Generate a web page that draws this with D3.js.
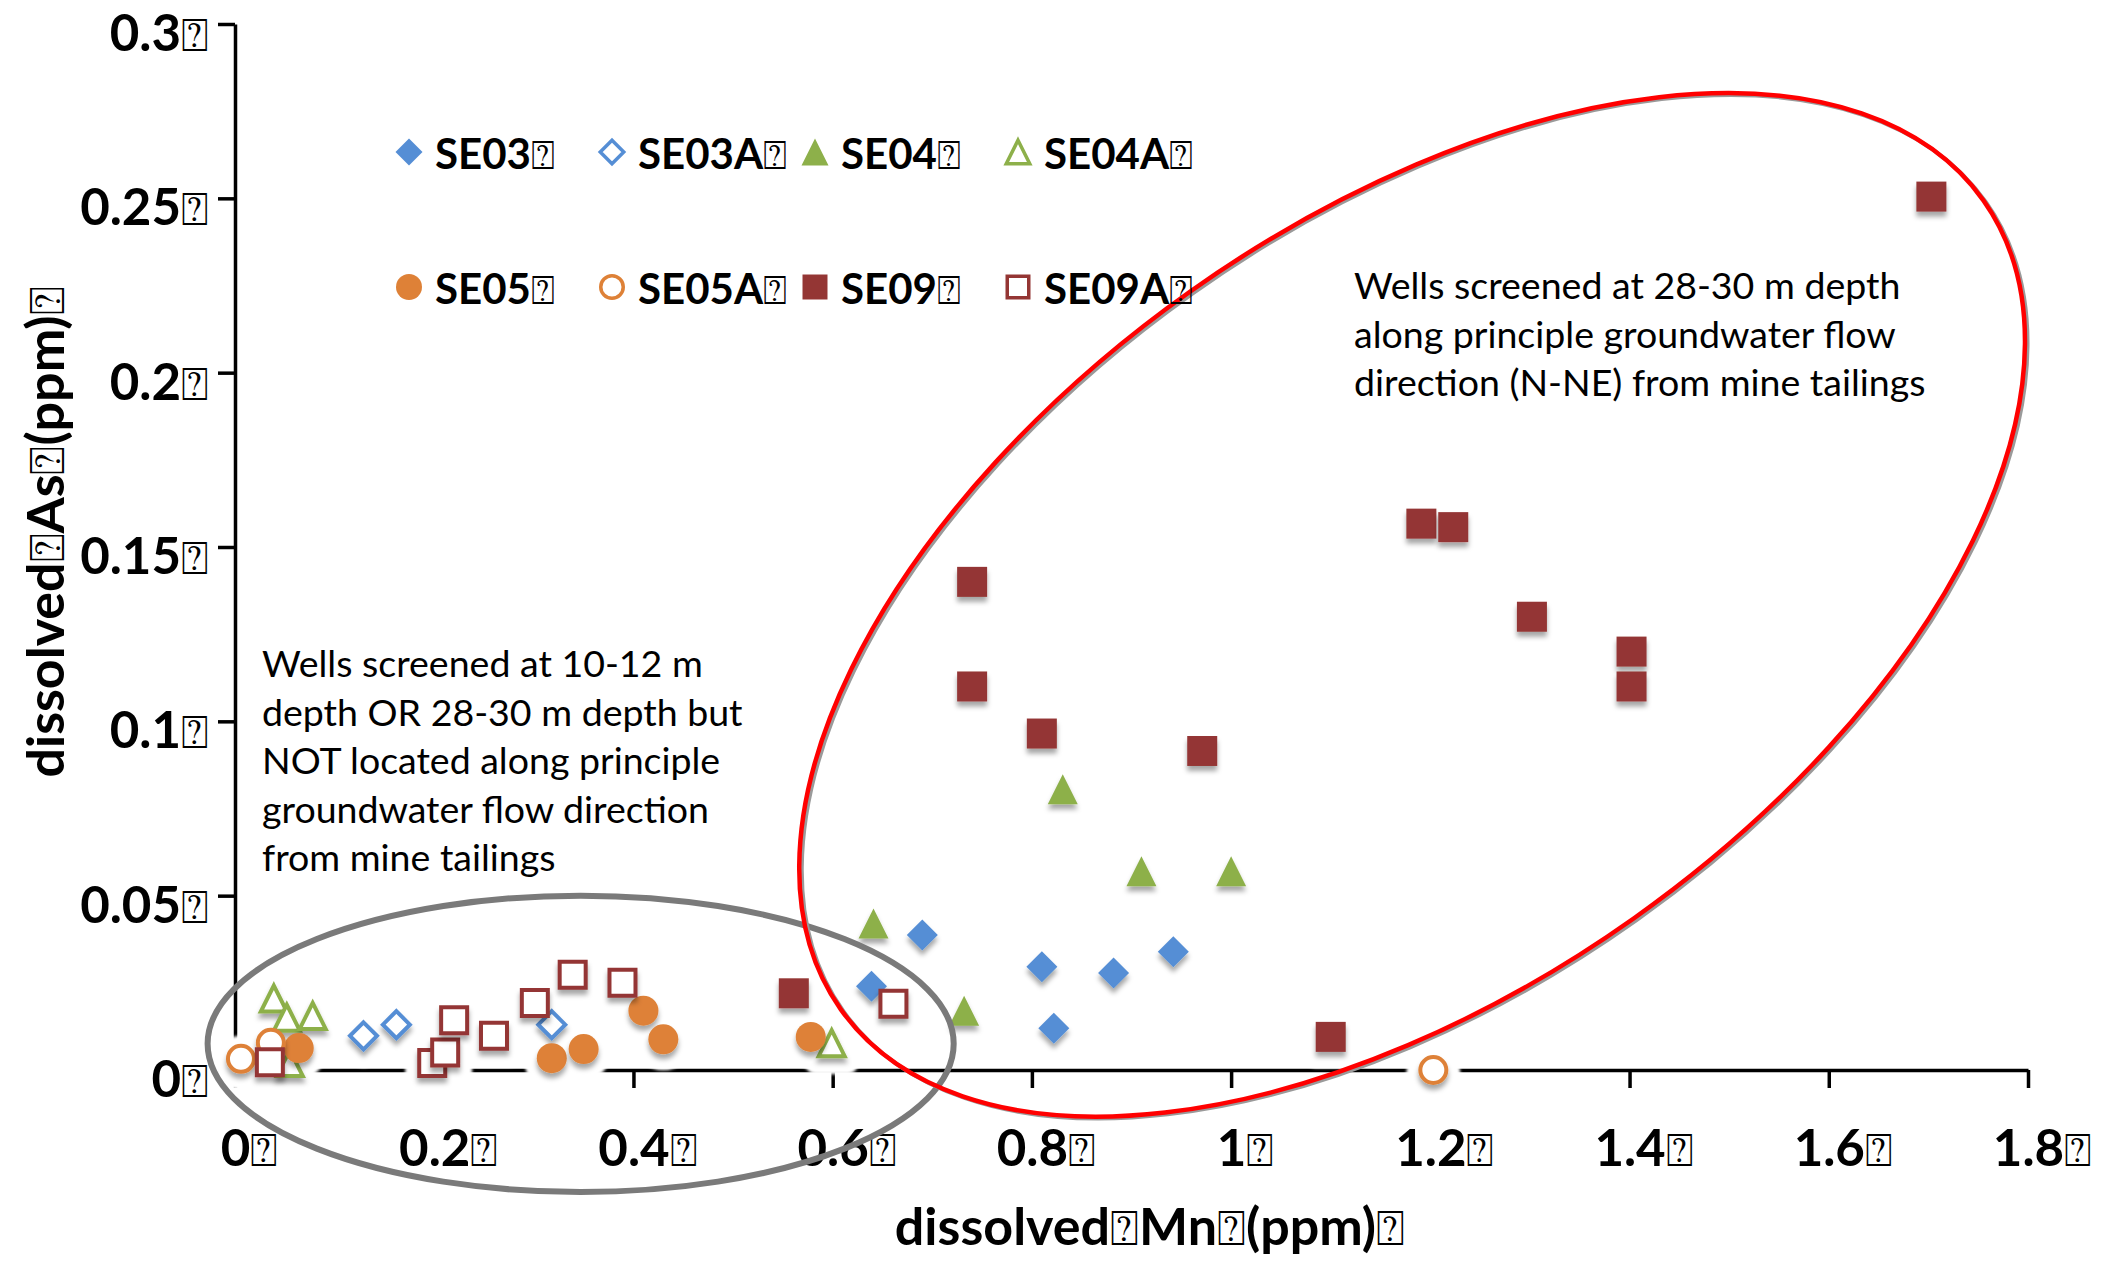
<!DOCTYPE html>
<html><head><meta charset="utf-8">
<script src="https://cdn.jsdelivr.net/npm/d3@7/dist/d3.min.js"></script>
<style>body{margin:0;background:#fff} svg{display:block}</style>
</head><body>
<svg id="chart" width="2105" height="1262"></svg>
<script>
// ---------- data ----------
const BOX = "\u2370";
const seriesNames = ["SE03","SE03A","SE04","SE04A","SE05","SE05A","SE09","SE09A"];
const SE03  = [[0.639,0.024],[0.69,0.0387],[0.81,0.0296],[0.822,0.012],[0.882,0.0278],[0.942,0.0339]];
const SE03A = [[0.129,0.0098],[0.162,0.013],[0.318,0.013]];
const SE04  = [[0.641,0.042],[0.732,0.017],[0.831,0.0805],[0.91,0.057],[1.0,0.057]];
const SE04A = [[0.039,0.0205],[0.052,0.015],[0.078,0.0155],[0.055,0.002],[0.599,0.0077]];
const SE05  = [[0.064,0.0063],[0.318,0.0034],[0.35,0.006],[0.41,0.017],[0.43,0.0088],[0.578,0.0095]];
const SE05A = [[0.006,0.0032],[0.036,0.0078],[1.203,0.0]];
const SE09  = [[0.561,0.022],[0.74,0.14],[0.74,0.11],[0.81,0.0965],[0.971,0.0915],[1.10,0.0095],[1.191,0.1567],[1.223,0.1557],[1.302,0.13],[1.402,0.12],[1.402,0.11],[1.703,0.2505]];
const SE09A = [[0.035,0.0022],[0.198,0.002],[0.211,0.005],[0.22,0.0143],[0.26,0.0098],[0.301,0.0192],[0.339,0.0273],[0.389,0.025],[0.661,0.019]];
const seriesData = [SE03,SE03A,SE04,SE04A,SE05,SE05A,SE09,SE09A];

const xTickValues = [0,0.2,0.4,0.6,0.8,1.0,1.2,1.4,1.6,1.8];
const xTickLabels = ["0","0.2","0.4","0.6","0.8","1","1.2","1.4","1.6","1.8"];
const yTickValues = [0,0.05,0.1,0.15,0.2,0.25,0.3];
const yTickLabels = ["0","0.05","0.1","0.15","0.2","0.25","0.3"];

const xTitle = ["dissolved",BOX,"Mn",BOX,"(ppm)",BOX];
const yTitle = ["dissolved",BOX,"As",BOX,"(ppm)",BOX];
const noteLeft = ["Wells screened at 10-12 m","depth OR 28-30 m depth but","NOT located along principle","groundwater flow direction","from mine tailings"];
const noteRight = ["Wells screened at 28-30 m depth","along principle groundwater flow","direction (N-NE) from mine tailings"];

// ---------- styles ----------
const shapes = ["diamond","diamond","triangle","triangle","circle","circle","square","square"];
const colors = ["#558ED5","#558ED5","#8DB04A","#8DB04A","#DE8137","#DE8137","#943634","#943634"];
const filled = [true,false,true,false,true,false,true,false];

const W = 2105, H = 1262;
const svg = d3.select("#chart");
svg.append("rect").attr("width",W).attr("height",H).attr("fill","#fff");

const defs = svg.append("defs");
const f = defs.append("filter").attr("id","shadow").attr("x","-60%").attr("y","-60%").attr("width","220%").attr("height","220%");
f.append("feDropShadow").attr("dx",0).attr("dy",5).attr("stdDeviation",2.5).attr("flood-color","#000").attr("flood-opacity",0.35);
const g2 = defs.append("filter").attr("id","halo").attr("x","-60%").attr("y","-60%").attr("width","220%").attr("height","220%");
g2.append("feGaussianBlur").attr("stdDeviation",1.5);

const x = d3.scaleLinear().domain([0,1.8]).range([235,2028]);
const y = d3.scaleLinear().domain([0,0.3]).range([1070,24]);

function shapePath(shape, s){
  const p = d3.path();
  if(shape==="diamond"){p.moveTo(0,-s);p.lineTo(s,0);p.lineTo(0,s);p.lineTo(-s,0);p.closePath();}
  else if(shape==="square"){p.rect(-s,-s,2*s,2*s);}
  else if(shape==="triangle"){p.moveTo(0,-s);p.lineTo(s,s);p.lineTo(-s,s);p.closePath();}
  else {p.arc(0,0,s,0,2*Math.PI);p.closePath();}
  return p.toString();
}
const halfSize = {diamond:15.5, square:15, triangle:15, circle:15};
const openStroke = 4;

const boldFont = "Lato, 'Open Sans', sans-serif";
const boxFont = "'DejaVu Sans'";

// ---------- axes ----------
const xAxis = d3.axisBottom(x).tickValues(xTickValues).tickSize(18).tickSizeOuter(0).tickPadding(42)
  .tickFormat((d,i)=>xTickLabels[i]);
const yAxis = d3.axisLeft(y).tickValues(yTickValues).tickSize(17).tickSizeOuter(0).tickPadding(9)
  .tickFormat((d,i)=>yTickLabels[i]);

const gx = svg.append("g").attr("transform",`translate(0,${y(0)})`).call(xAxis);
const gy = svg.append("g").attr("transform",`translate(${x(0)},0)`).call(yAxis);
[gx,gy].forEach(g=>{
  g.select(".domain").attr("stroke","#000").attr("stroke-width",3.5);
  g.selectAll(".tick line").attr("stroke","#000").attr("stroke-width",3.5);
  g.selectAll(".tick text").attr("font-family",boldFont).attr("font-weight",700).attr("font-size",51).attr("fill","#000");
});
function addBox(sel, size){
  sel.each(function(){
    const t = d3.select(this); const s = t.text(); t.text(null);
    t.append("tspan").attr("class","num").text(s);
    t.append("tspan").attr("class","bx").attr("font-family",boxFont).attr("font-weight",400).attr("font-size",size).text(BOX);
  });
}
addBox(gx.selectAll(".tick text"), 46);
addBox(gy.selectAll(".tick text"), 46);
gy.selectAll(".tick text").attr("dy","0.52em");
gx.selectAll(".tick text").attr("text-anchor","start").each(function(){
  const w = d3.select(this).select(".num").node().getComputedTextLength();
  d3.select(this).attr("x",-w/2);
});

// ---------- halos (white glow under markers) ----------
const gHalo = svg.append("g");
const gMarks = svg.append("g");
seriesData.forEach((data,i)=>{
  const sh = shapes[i];
  gHalo.selectAll(null).data(data).enter().append("path")
    .attr("transform",d=>`translate(${x(d[0])},${y(d[1])+4})`)
    .attr("d",shapePath(sh,halfSize[sh]))
    .attr("fill","#fff").attr("stroke","#fff").attr("stroke-width",24).attr("stroke-linejoin","round")
    .attr("filter","url(#halo)");
});
seriesData.forEach((data,i)=>{
  const sh = shapes[i];
  const s = filled[i] ? halfSize[sh] : halfSize[sh]-openStroke/2;
  gMarks.append("g").attr("class","series "+seriesNames[i]).selectAll("path").data(data).enter().append("path")
    .attr("transform",d=>`translate(${x(d[0])},${y(d[1])})`)
    .attr("d",shapePath(sh,s))
    .attr("fill",filled[i]?colors[i]:"#fff")
    .attr("stroke",filled[i]?"none":colors[i])
    .attr("stroke-width",filled[i]?0:openStroke)
    .attr("filter","url(#shadow)");
});

// ---------- annotation ellipses ----------
const greyEll = {cx:0.347, cy:0.0075, rx:0.3745, ry:0.0425};
svg.append("ellipse")
  .attr("cx",x(greyEll.cx)).attr("cy",y(greyEll.cy))
  .attr("rx",x(greyEll.rx)-x(0)).attr("ry",y(0)-y(greyEll.ry))
  .attr("fill","none").attr("stroke","#7a7a7a").attr("stroke-width",6);
const redEll = {cx:1.1817, cy:0.1334, rx:700, ry:384, angle:-35.3};
const redG = svg.append("g").attr("transform",`translate(${x(redEll.cx)},${y(redEll.cy)}) rotate(${redEll.angle})`);
redG.append("ellipse").attr("cx",1).attr("cy",3).attr("rx",redEll.rx).attr("ry",redEll.ry)
  .attr("fill","none").attr("stroke","#9a9a9a").attr("stroke-width",4);
redG.append("ellipse").attr("rx",redEll.rx).attr("ry",redEll.ry)
  .attr("fill","none").attr("stroke","#ff0000").attr("stroke-width",4.5);

// ---------- legend ----------
const legend = svg.append("g");
const legCols = 4, legX0 = 409, legStep = 203, legY0 = 152, legRow = 135;
seriesNames.forEach((name,i)=>{
  const col = i % legCols, row = Math.floor(i/legCols);
  const gx0 = legX0 + col*legStep, gy0 = legY0 + row*legRow;
  const sh = shapes[i];
  const s0 = sh==="square"?12.5:(sh==="circle"?13:13.5);
  const s = filled[i]? s0 : s0-1.75;
  legend.append("path").attr("transform",`translate(${gx0},${gy0})`).attr("d",shapePath(sh,s))
    .attr("fill",filled[i]?colors[i]:"#fff").attr("stroke",filled[i]?"none":colors[i]).attr("stroke-width",filled[i]?0:3.5);
  const t = legend.append("text").attr("x",gx0+26).attr("y",gy0+17)
    .attr("font-family",boldFont).attr("font-weight",700).attr("font-size",42).attr("fill","#000");
  t.append("tspan").text(name);
  t.append("tspan").attr("font-family",boxFont).attr("font-weight",400).attr("font-size",40).text(BOX);
});

// ---------- axis titles ----------
function titleText(parts, sel){
  parts.forEach(p=>{
    const ts = sel.append("tspan").text(p);
    if(p===BOX) ts.attr("font-family",boxFont).attr("font-weight",400).attr("font-size",48);
  });
}
const xt = svg.append("text").attr("x",1150).attr("y",1245).attr("text-anchor","middle")
  .attr("font-family",boldFont).attr("font-weight",700).attr("font-size",52).attr("fill","#000");
titleText(xTitle, xt);
const yt = svg.append("text").attr("transform","translate(64,532) rotate(-90)").attr("text-anchor","middle")
  .attr("font-family",boldFont).attr("font-weight",700).attr("font-size",52).attr("fill","#000");
titleText(yTitle, yt);

// ---------- notes ----------
function note(lines, x0, y0){
  const t = svg.append("text").attr("font-family","Lato, sans-serif").attr("font-size",37.5).attr("fill","#000");
  lines.forEach((l,i)=>t.append("tspan").attr("x",x0).attr("y",y0+i*48.5).text(l));
}
note(noteLeft, 262, 677);
note(noteRight, 1354, 299);
</script>
</body></html>
